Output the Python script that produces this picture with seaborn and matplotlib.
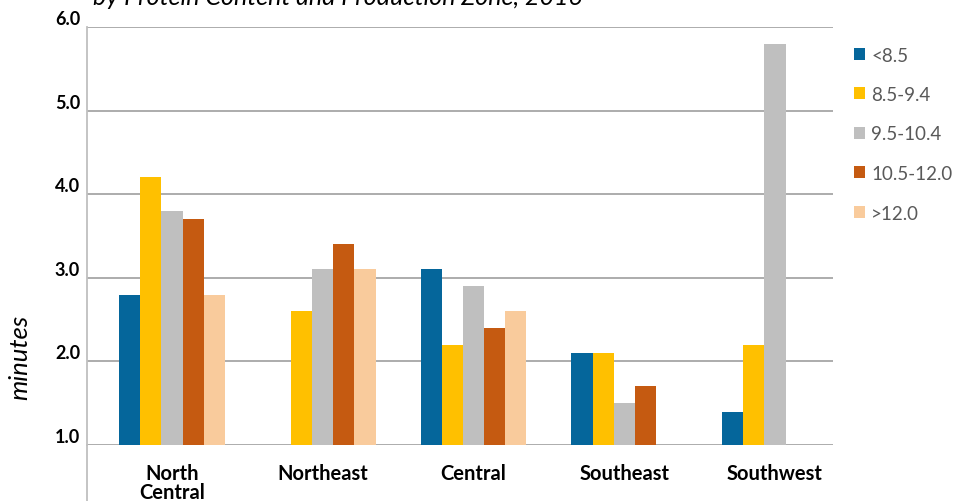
import numpy as np
import pandas as pd
import matplotlib
matplotlib.use("Agg")
import matplotlib.pyplot as plt
import seaborn as sns

zones = ["North\nCentral", "Northeast", "Central", "Southeast", "Southwest"]
protein_classes = ["<8.5", "8.5-9.4", "9.5-10.4", "10.5-12.0", ">12.0"]
nan = np.nan
vals_lt85 = [2.8, nan, 3.1, 2.1, 1.4]
vals_85_94 = [4.2, 2.6, 2.2, 2.1, 2.2]
vals_95_104 = [3.8, 3.1, 2.9, 1.5, 5.8]
vals_105_120 = [3.7, 3.4, 2.4, 1.7, nan]
vals_gt120 = [2.8, 3.1, 2.6, nan, nan]
y_ticks = [1.0, 2.0, 3.0, 4.0, 5.0, 6.0]
colors = ["#05669B", "#FFC000", "#BFBFBF", "#C55A11", "#F9CB9C"]

series = [vals_lt85, vals_85_94, vals_95_104, vals_105_120, vals_gt120]
df = pd.DataFrame(
    [(z, c, v) for c, s in zip(protein_classes, series) for z, v in zip(zones, s)],
    columns=["zone", "protein", "minutes"],
)

sns.set_theme(style="white")
plt.rcParams["font.family"] = ["Lato", "DejaVu Sans"]

fig = plt.figure(figsize=(9.72, 5.02), dpi=100)
ax = fig.add_axes([87 / 972, 1 - 446 / 502, (833 - 87) / 972, (446 - 28) / 502])

sns.barplot(
    data=df, x="zone", y="minutes", hue="protein",
    order=zones, hue_order=protein_classes, palette=colors,
    width=0.7, saturation=1, linewidth=0, errorbar=None, ax=ax,
)

ax.set_ylim(1.0, 6.0)
ax.set_xlim(-0.564, 4.385)
ax.set_yticks(y_ticks)
ax.set_yticklabels([f"{t:.1f}" for t in y_ticks], fontsize=13, fontweight="bold",
                   color="black", va="bottom")
ax.yaxis.grid(True, color="#A6A6A6", linewidth=1.3)
ax.set_axisbelow(True)
ax.tick_params(axis="y", which="major", length=29, width=1.3, color="#A6A6A6",
               direction="out", pad=-24)
ax.tick_params(axis="x", length=0, pad=13)
for lbl in ax.get_xticklabels():
    lbl.set_fontweight("bold")
    lbl.set_fontsize(14.5)
    lbl.set_color("black")
    lbl.set_va("top")
    lbl.set_linespacing(0.95)

for side in ["top", "right", "bottom"]:
    ax.spines[side].set_visible(False)
ax.spines["left"].set_color("#BFBFBF")
ax.spines["left"].set_linewidth(1.3)
# vertical axis line continues below the category baseline
ax.plot([0, 0], [-0.14, 0], transform=ax.transAxes, clip_on=False,
        color="#BFBFBF", linewidth=1.3)

ax.set_xlabel("")
ax.set_ylabel("")
fig.text(20 / 972, 1 - 357 / 502, "minutes", rotation=90, ha="center", va="center",
         fontsize=18.5, fontstyle="italic", color="black")

fig.text(93 / 972, 1 - 5 / 502, "by Protein Content and Production Zone, 2016",
         ha="left", va="baseline", fontsize=18, fontstyle="italic", color="black")

handles, labels = ax.get_legend_handles_labels()
ax.legend(handles, labels, loc="upper left", bbox_to_anchor=(846 / 972, 1 - 40 / 502),
          bbox_transform=fig.transFigure, frameon=False, fontsize=13.5,
          labelcolor="#595959", handlelength=0.6, handleheight=0.6,
          handletextpad=0.35, labelspacing=1.2, borderaxespad=0)

fig.savefig("out.png", dpi=100)
